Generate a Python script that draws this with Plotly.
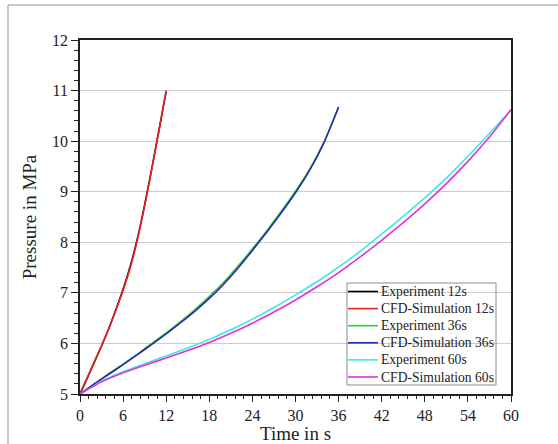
import plotly.graph_objects as go

# ---- data ----
t12 = [0, 1, 2, 3, 4, 5, 6, 7, 8, 9, 10, 11, 12]
exp12 = [5.0, 5.31, 5.63, 5.95, 6.29, 6.67, 7.07, 7.53, 8.08, 8.74, 9.46, 10.22, 10.99]
cfd12 = [5.0, 5.32, 5.64, 5.96, 6.29, 6.66, 7.05, 7.50, 8.06, 8.72, 9.45, 10.22, 11.0]

t36 = [0, 2, 4, 6, 8, 10, 12, 14, 16, 18, 20, 22, 24, 26, 28, 30, 32, 34, 36]
exp36 = [5.0, 5.20, 5.40, 5.59, 5.79, 6.00, 6.21, 6.43, 6.67, 6.93, 7.21, 7.53, 7.87,
         8.23, 8.61, 9.01, 9.45, 9.99, 10.66]
cfd36 = [5.0, 5.20, 5.39, 5.58, 5.78, 5.98, 6.19, 6.41, 6.64, 6.89, 7.17, 7.49, 7.84,
         8.20, 8.58, 8.98, 9.43, 9.98, 10.68]

t60 = [0, 3, 6, 9, 12, 15, 18, 21, 24, 27, 30, 33, 36, 39, 42, 45, 48, 51, 54, 57, 60]
exp60 = [5.0, 5.25, 5.44, 5.60, 5.75, 5.91, 6.08, 6.27, 6.48, 6.71, 6.96, 7.22, 7.51,
         7.82, 8.16, 8.51, 8.88, 9.27, 9.70, 10.15, 10.62]
cfd60 = [5.0, 5.24, 5.42, 5.57, 5.71, 5.86, 6.02, 6.20, 6.40, 6.62, 6.86, 7.12, 7.40,
         7.71, 8.04, 8.39, 8.76, 9.16, 9.60, 10.08, 10.62]

x_ticks = [0, 6, 12, 18, 24, 30, 36, 42, 48, 54, 60]
y_ticks = [5, 6, 7, 8, 9, 10, 11, 12]

series_names = ["Experiment 12s", "CFD-Simulation 12s", "Experiment 36s",
                "CFD-Simulation 36s", "Experiment 60s", "CFD-Simulation 60s"]
series_x = [t12, t12, t36, t36, t60, t60]
series_y = [exp12, cfd12, exp36, cfd36, exp60, cfd60]
series_colors = ["#000000", "#e8231f", "#2ed12e", "#2626b4", "#3ee6e6", "#e030e0"]

FONT = "Liberation Serif"

# plot-area geometry in pixels (for the hand-made legend box)
W, H = 558, 444
ML, MR, MT, MB = 80, 47, 40, 50
PW, PH = W - ML - MR, H - MT - MB


def px_to_paper_x(px):
    return (px - ML) / PW


def px_to_paper_y(py):
    return (H - MB - py) / PH


fig = go.Figure()
for name, x, y, c in zip(series_names, series_x, series_y, series_colors):
    fig.add_trace(go.Scatter(x=x, y=y, name=name, mode="lines", showlegend=False,
                             line=dict(color=c, width=1.6, shape="spline", smoothing=0.5)))

fig.update_layout(
    width=W, height=H,
    margin=dict(l=ML, r=MR, t=MT, b=MB, autoexpand=False),
    paper_bgcolor="white", plot_bgcolor="white",
    font=dict(family=FONT, size=16, color="#222222"),
    showlegend=False,
    xaxis=dict(range=[0, 60], tickvals=x_ticks, ticktext=[str(v) for v in x_ticks],
               automargin=False,
               showgrid=False, zeroline=False,
               showline=True, linecolor="#222222", linewidth=1.6, mirror=True,
               ticks="outside", ticklen=6, tickwidth=1.3, tickcolor="#222222",
               minor=dict(dtick=1.2, tick0=0, ticks="outside", ticklen=3.5,
                          tickwidth=1, tickcolor="#222222"),
               title=dict(text="Time in s", font=dict(family=FONT, size=19), standoff=3),
               tickfont=dict(family=FONT, size=16)),
    yaxis=dict(range=[5, 12], tickvals=y_ticks, ticktext=[str(v) for v in y_ticks],
               automargin=False,
               showgrid=True, gridcolor="#cccccc", gridwidth=1.3, zeroline=False,
               showline=True, linecolor="#222222", linewidth=1.6, mirror=True,
               ticks="outside", ticklen=7, tickwidth=1.3, tickcolor="#222222",
               minor=dict(dtick=0.2, tick0=5, ticks="outside", ticklen=4,
                          tickwidth=1, tickcolor="#222222", showgrid=False),
               title=dict(text="Pressure in MPa", font=dict(family=FONT, size=19), standoff=10),
               tickfont=dict(family=FONT, size=16)),
)

# legend box (drawn by hand for a compact row spacing)
fig.add_shape(type="rect", xref="paper", yref="paper",
              x0=px_to_paper_x(347), x1=px_to_paper_x(496),
              y0=px_to_paper_y(385), y1=px_to_paper_y(283),
              line=dict(color="#8c8c8c", width=1), fillcolor="rgba(0,0,0,0)")
row0, row_gap = 291.5, 17.1
for i, (name, c) in enumerate(zip(series_names, series_colors)):
    yy = px_to_paper_y(row0 + i * row_gap)
    fig.add_shape(type="line", xref="paper", yref="paper",
                  x0=px_to_paper_x(348), x1=px_to_paper_x(378), y0=yy, y1=yy,
                  line=dict(color=c, width=1.6))
    fig.add_annotation(xref="paper", yref="paper", x=px_to_paper_x(379), y=yy,
                       xanchor="left", yanchor="middle", showarrow=False, text=name,
                       font=dict(family=FONT, size=13.6, color="#222222"))

# outer gray frame (left and top edges; the rest lies outside the picture)
fig.add_shape(type="line", xref="paper", yref="paper",
              x0=px_to_paper_x(8), x1=px_to_paper_x(8), y0=px_to_paper_y(5), y1=px_to_paper_y(450),
              line=dict(color="#b4b4b4", width=1.5))
fig.add_shape(type="line", xref="paper", yref="paper",
              x0=px_to_paper_x(8), x1=px_to_paper_x(565), y0=px_to_paper_y(5), y1=px_to_paper_y(5),
              line=dict(color="#b4b4b4", width=1.5))

fig.write_html("out.html")
